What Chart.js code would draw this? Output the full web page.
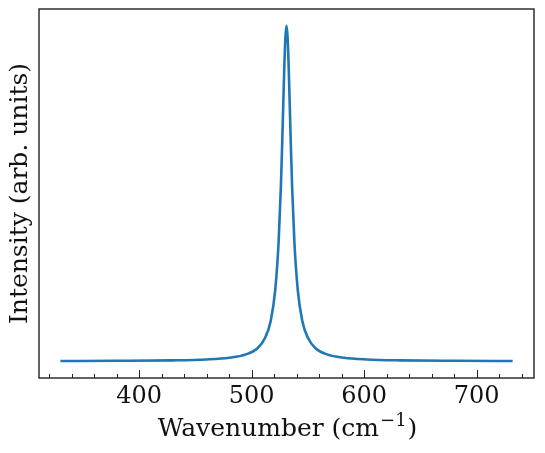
<!DOCTYPE html>
<html>
<head>
<meta charset="utf-8">
<script src="https://cdn.jsdelivr.net/npm/chart.js@4"></script>
<style>
  html, body { margin: 0; padding: 0; background: #fff; }
  #wrap { width: 545px; height: 453px; }
</style>
</head>
<body>
<div id="wrap"><canvas id="myChart"></canvas></div>
<script>
// wavenumber (cm^-1) and intensity
const wavenumber = [330, 380, 430, 460, 480, 495, 505, 512, 517, 521, 524, 526, 527, 528, 529, 530, 531,
                    532, 533, 534, 535, 536, 538, 541, 545, 550, 557, 567, 582, 602, 632, 682, 732];
const intensity = [0.0007, 0.0012, 0.0026, 0.0053, 0.0103, 0.0204, 0.038, 0.070, 0.121, 0.213, 0.356, 0.520, 0.628, 0.750, 0.871, 0.964, 1.0,
                   0.964, 0.871, 0.750, 0.628, 0.520, 0.356, 0.213, 0.121, 0.070, 0.038, 0.0204, 0.0103, 0.0053, 0.0026, 0.0012, 0.0007];
const xTicks = [400, 500, 600, 700];

const serif = "'DejaVu Serif', serif";
const fontSize = 24;
const titleSize = 25;

// frame + inward ticks like matplotlib, and x title with a real superscript
const frameTicks = {
    id: 'frameTicks',
    afterDraw(chart) {
        const c = chart.ctx;
        const a = chart.chartArea;
        const xs = chart.scales.x;
        c.save();
        c.strokeStyle = '#222';
        c.lineWidth = 1.4;
        c.strokeRect(a.left, a.top, a.right - a.left, a.bottom - a.top);
        c.lineWidth = 1;
        for (let v = 320; v <= 740; v += 20) {
            const px = Math.round(xs.getPixelForValue(v)) + 0.5;
            const len = (v % 100 === 0) ? 8 : 4;
            c.beginPath();
            c.moveTo(px, a.bottom);
            c.lineTo(px, a.bottom - len);
            c.stroke();
        }

        // x axis title
        const main = titleSize + 'px ' + serif;
        const sup = Math.round(titleSize * 0.7) + 'px ' + serif;
        const p1 = 'Wavenumber (cm', p2 = '\u22121', p3 = ')';
        c.font = main;
        const w1 = c.measureText(p1).width, w3 = c.measureText(p3).width;
        c.font = sup;
        const w2 = c.measureText(p2).width;
        let x = (a.left + a.right) / 2 - (w1 + w2 + w3) / 2;
        const y = 436;
        c.fillStyle = '#111';
        c.textBaseline = 'alphabetic';
        c.textAlign = 'left';
        c.font = main;
        c.fillText(p1, x, y);
        x += w1;
        c.font = sup;
        c.fillText(p2, x + 1, y - 10);
        x += w2 + 2;
        c.font = main;
        c.fillText(p3, x, y);
        c.restore();
    }
};

const ctx = document.getElementById('myChart').getContext('2d');
const config = {
    type: 'scatter',
    data: {
        datasets: [{
            data: wavenumber.map((x, i) => ({ x: x, y: intensity[i] })),
            showLine: true,
            borderColor: '#1f77b4',
            backgroundColor: '#1f77b4',
            borderWidth: 2.6,
            pointRadius: 0,
            cubicInterpolationMode: 'monotone',
        }],
    },
    options: {
        responsive: true,
        maintainAspectRatio: false,
        animation: false,
        layout: { padding: { top: 9, right: 11, left: 0, bottom: 0 } },
        plugins: {
            legend: { display: false },
            tooltip: { enabled: false },
        },
        scales: {
            x: {
                type: 'linear',
                min: 311,
                max: 751,
                grid: { display: false, drawTicks: false },
                border: { display: false },
                afterBuildTicks: scale => { scale.ticks = xTicks.map(v => ({ value: v })); },
                afterFit: scale => { scale.height = 75; },
                ticks: {
                    color: '#111',
                    padding: 4,
                    maxRotation: 0,
                    font: { family: serif, size: fontSize },
                },
                title: { display: false },
            },
            y: {
                min: -0.05,
                max: 1.05,
                grid: { display: false, drawTicks: false },
                border: { display: false },
                ticks: { display: false },
                afterFit: scale => { scale.width = 39; },
                title: {
                    display: true,
                    text: 'Intensity (arb. units)',
                    color: '#111',
                    font: { family: serif, size: titleSize },
                    padding: { top: 5, bottom: 0 },
                },
            },
        },
    },
    plugins: [frameTicks],
};

const sensorsChart = new Chart(ctx, config);
</script>
</body>
</html>
